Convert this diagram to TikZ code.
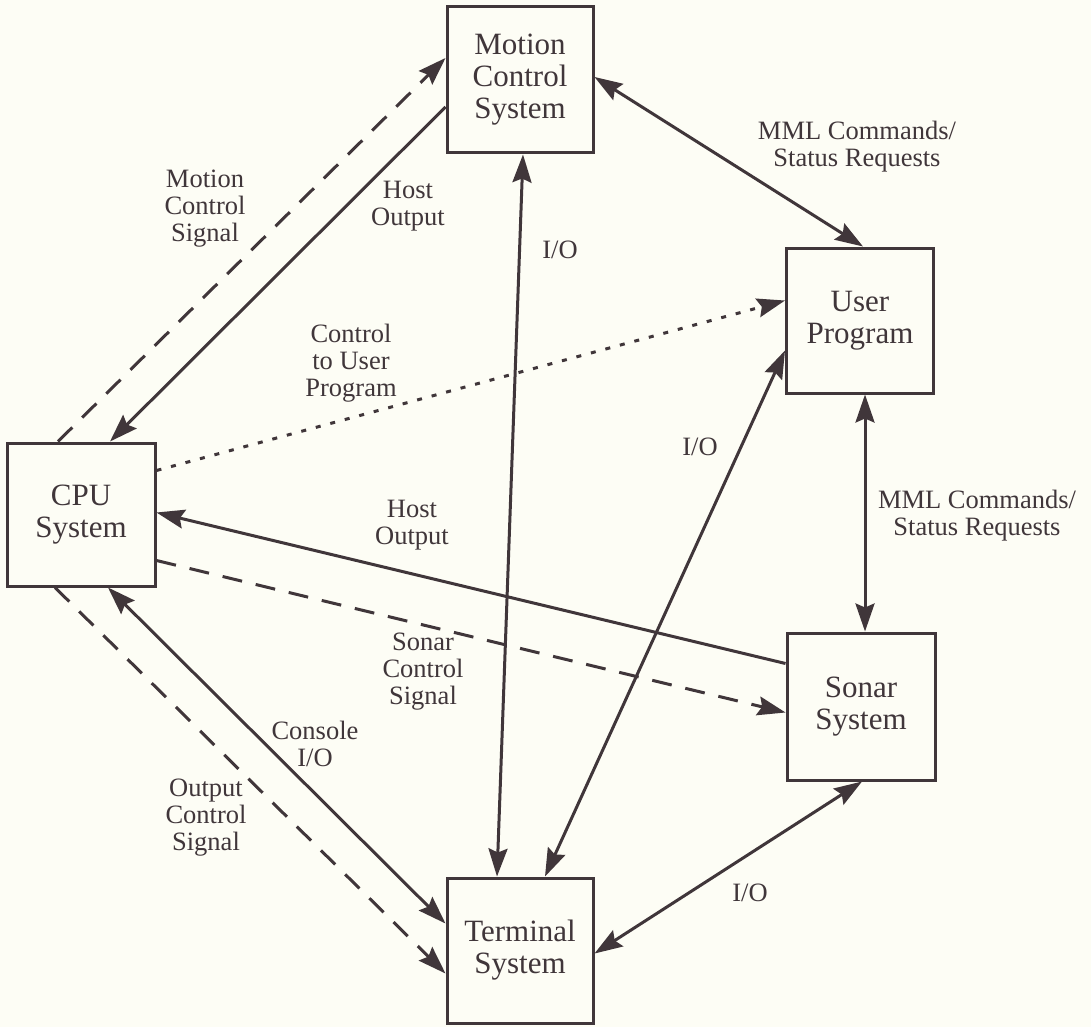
\documentclass[tikz,border=0pt]{standalone}
\usepackage{fontspec}
\setmainfont{Liberation Serif}
\usetikzlibrary{arrows.meta,calc}
\definecolor{ink}{RGB}{64,54,58}
\definecolor{paper}{RGB}{253,253,245}
\begin{document}
\begin{tikzpicture}[x=1pt,y=-1pt,
  sysbox/.style={draw=ink,line width=3pt,inner sep=0pt,align=center,text=ink,
    font=\fontsize{31}{32}\selectfont},
  lbl/.style={align=center,text=ink,inner sep=0pt,font=\fontsize{26.5}{27}\selectfont},
  link/.style={draw=ink,line width=3pt},
  tip/.style={-{Stealth[length=28pt,width=19pt,inset=4pt]}},
  both/.style={{Stealth[length=28pt,width=19pt,inset=4pt]}-{Stealth[length=28pt,width=19pt,inset=4pt]}},
  dashline/.style={dash pattern=on 20pt off 14pt},
  dotline/.style={dash pattern=on 5pt off 10pt}]
\fill[paper] (0,0) rectangle (1091,1027);
\path[use as bounding box] (0,0) rectangle (1091,1027);

% system blocks
\node[sysbox,minimum width=146pt,minimum height=146pt] (mcs) at (520,80) {Motion\\Control\\System};
\node[sysbox,minimum width=147pt,minimum height=145pt] (usr) at (860,320.5) {User\\Program};
\node[sysbox,minimum width=148pt,minimum height=143pt] (cpu) at (81,514.5) {CPU\\System};
\node[sysbox,minimum width=148pt,minimum height=147pt] (son) at (861,706.5) {Sonar\\System};
\node[sysbox,minimum width=146pt,minimum height=145pt] (ter) at (520,950.5) {Terminal\\System};

% CPU <-> motion control
\draw[link,dashline,tip] ([xshift=-23pt]cpu.north) -- ([yshift=22pt]mcs.west);
\draw[link,tip] ([yshift=-27pt]mcs.west) -- ([xshift=29pt]cpu.north);
% CPU -> user program
\draw[link,dotline,tip] ([yshift=44pt]cpu.east) -- ([yshift=20pt]usr.west);
% I/O links
\draw[link,both] ([xshift=3pt]mcs.south) -- ([xshift=-23pt]ter.north);
\draw[link,both] ([yshift=-30pt]usr.west) -- ([xshift=25pt]ter.north);
\draw[link,both] ([yshift=-3pt]ter.east) -- ([xshift=1pt]son.south);
% MML command links
\draw[link,both] ([yshift=3pt]mcs.east) -- ([xshift=3pt]usr.north);
\draw[link,both] ([xshift=5pt]usr.south) -- ([xshift=4pt]son.north);
% CPU <-> sonar
\draw[link,tip] ([yshift=43pt]son.west) -- ([yshift=2pt]cpu.east);
\draw[link,dashline,tip] ([yshift=-46pt]cpu.east) -- ([yshift=-6pt]son.west);
% CPU <-> terminal
\draw[link,both] ([xshift=27pt]cpu.south) -- ([yshift=27pt]ter.west);
\draw[link,dashline,tip] ([xshift=-26pt]cpu.south) -- ([yshift=-23pt]ter.west);

% labels
\node[lbl] (lmcs) at (205,209) {Motion\\Control\\Signal};
\node[lbl] (lho1) at (408,206) {Host\\Output};
\node[lbl] (lctu) at (351,363) {Control\\to User\\Program};
\node[lbl] (lio1) at (560,250) {I/O};
\node[lbl] (lmml1) at (857,147) {MML Commands/\\Status Requests};
\node[lbl] (lio2) at (700,447) {I/O};
\node[lbl] (lmml2) at (977,516) {MML Commands/\\Status Requests};
\node[lbl] (lho2) at (412,525) {Host\\Output};
\node[lbl] (lscs) at (423,672) {Sonar\\Control\\Signal};
\node[lbl] (lcio) at (315,744) {Console\\I/O};
\node[lbl] (locs) at (206,818) {Output\\Control\\Signal};
\node[lbl] (lio3) at (750,893) {I/O};
\end{tikzpicture}
\end{document}
